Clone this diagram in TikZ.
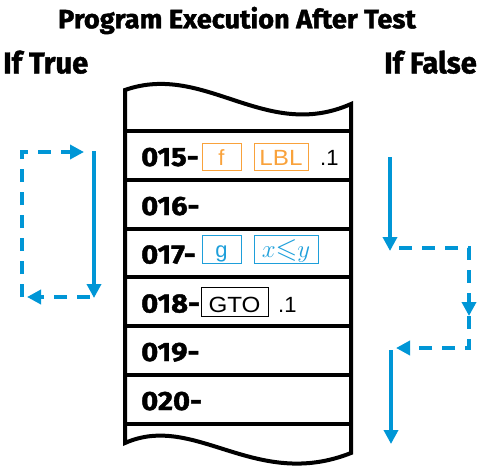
\documentclass[tikz,border=0pt]{standalone}
\usepackage{fontspec}
\usepackage{amssymb}
\setmainfont{Fira Sans}[BoldFeatures={FakeBold=1.5}]
\newfontfamily\keyfont{Liberation Sans}
\usetikzlibrary{arrows.meta}
\definecolor{hpblue}{HTML}{0096D6}
\definecolor{keyblue}{HTML}{1E9FDA}
\definecolor{hporange}{HTML}{F9A23B}
\newcommand{\wide}[2]{\scalebox{#1}[1]{#2}}
\tikzset{
  tape/.style={line width=4pt, line join=miter},
  divider/.style={line width=4pt},
  rowlabel/.style={anchor=base west, inner sep=0pt, font=\bfseries\fontsize{26.5}{28}\selectfont},
  keybox/.style={draw, line width=1pt, inner sep=0pt, text height=#1, text depth=0pt,
    font=\keyfont\fontsize{22}{24}\selectfont},
  keybox/.default=17pt,
  plain/.style={anchor=base west, inner sep=0pt, font=\keyfont\fontsize{22}{24}\selectfont},
  heading/.style={inner sep=0pt, font=\bfseries\fontsize{26.5}{28}\selectfont},
  sidehead/.style={inner sep=0pt, font=\bfseries\fontsize{30}{32}\selectfont},
  flow/.style={hpblue, line width=3.5pt, -{Triangle[length=14pt,width=14pt]}},
  flowdash/.style={hpblue, line width=3.5pt, dash pattern=on 13pt off 10pt},
}
\begin{document}
\begin{tikzpicture}[x=1pt,y=-1pt]
\useasboundingbox (0,0) rectangle (478,468);

% headings
\node[heading, anchor=base] (title) at (237,28.3) {\wide{1.025}{Program Execution After Test}};
\node[sidehead, anchor=base west] (iftrue) at (3,73.3) {\wide{0.97}{If True}};
\node[sidehead, anchor=base east] (iffalse) at (477,73.3) {\wide{0.97}{If False}};

% tape outline
\draw[tape] (125,90) .. controls (205,62) and (265,142) .. (351,104)
  -- (351,453) .. controls (255,491) and (195,412) .. (125,443) -- cycle;
\foreach \yy in {130.5,179.5,228.5,277,326,375,424}
  \draw[divider] (125,\yy) -- (351,\yy);

% row labels
\node[rowlabel] (r15) at (141,166) {\wide{1.1}{015-}};
\node[rowlabel] (r16) at (141,215) {\wide{1.1}{016-}};
\node[rowlabel] (r17) at (141,263.5) {\wide{1.1}{017-}};
\node[rowlabel] (r18) at (141,312.5) {\wide{1.1}{018-}};
\node[rowlabel] (r19) at (141,361) {\wide{1.1}{019-}};
\node[rowlabel] (r20) at (141,410) {\wide{1.1}{020-}};

% keys
\node[keybox=17.6pt, hporange, minimum width=39pt, minimum height=27pt] (kf) at (221.5,156.5) {f};
\node[keybox=17.6pt, hporange, minimum width=54pt, minimum height=27pt] (klbl) at (281,156.5) {\wide{1.1}{LBL}};
\node[plain] (d1) at (320,165.5) {.1};
\node[keybox=17pt, keyblue, minimum width=39pt, minimum height=28pt] (kg) at (221.5,249) {g};
\node[keybox=17pt, keyblue, minimum width=64pt, minimum height=28pt, font=\fontsize{28}{30}\selectfont] (kxy) at (286,249) {$x{\leqslant}y$};
\node[keybox=21pt, black, minimum width=67pt, minimum height=29pt] (kgto) at (234.5,302) {\wide{1.1}{GTO}};
\node[plain] (d2) at (278,312.5) {.1};

% left loop (if true)
\coordinate (la) at (94,151);
\coordinate (lb) at (94,298);
\coordinate (lc) at (90,297);
\coordinate (ld) at (27,297);
\coordinate (lk) at (40,297);
\coordinate (le) at (22,297);
\coordinate (lf) at (22,152);
\coordinate (lg) at (84,152);
\coordinate (lh) at (70,152);
\draw[flow] (la) -- (lb);
\draw[flowdash] (lc) -- (lk);
\draw[flow] (lk) -- (ld);
\draw[flowdash] (le) -- (lf) -- (lh);
\draw[flow] (lh) -- (lg);

% right path (if false)
\coordinate (ra) at (390,157);
\coordinate (rb) at (390,251);
\coordinate (rc) at (399,248);
\coordinate (rd) at (469,248);
\coordinate (re) at (469,348);
\coordinate (rf) at (396,348);
\coordinate (rk) at (410,348);
\coordinate (rg) at (391,350);
\coordinate (rh) at (391,444);
\coordinate (rn) at (469,300);
\coordinate (rm) at (469,316);
\draw[flow] (ra) -- (rb);
\draw[flowdash] (rc) -- (rd) -- (re) -- (rk);
\draw[flow] (rn) -- (rm);
\draw[flow] (rk) -- (rf);
\draw[flow] (rg) -- (rh);
\end{tikzpicture}
\end{document}
